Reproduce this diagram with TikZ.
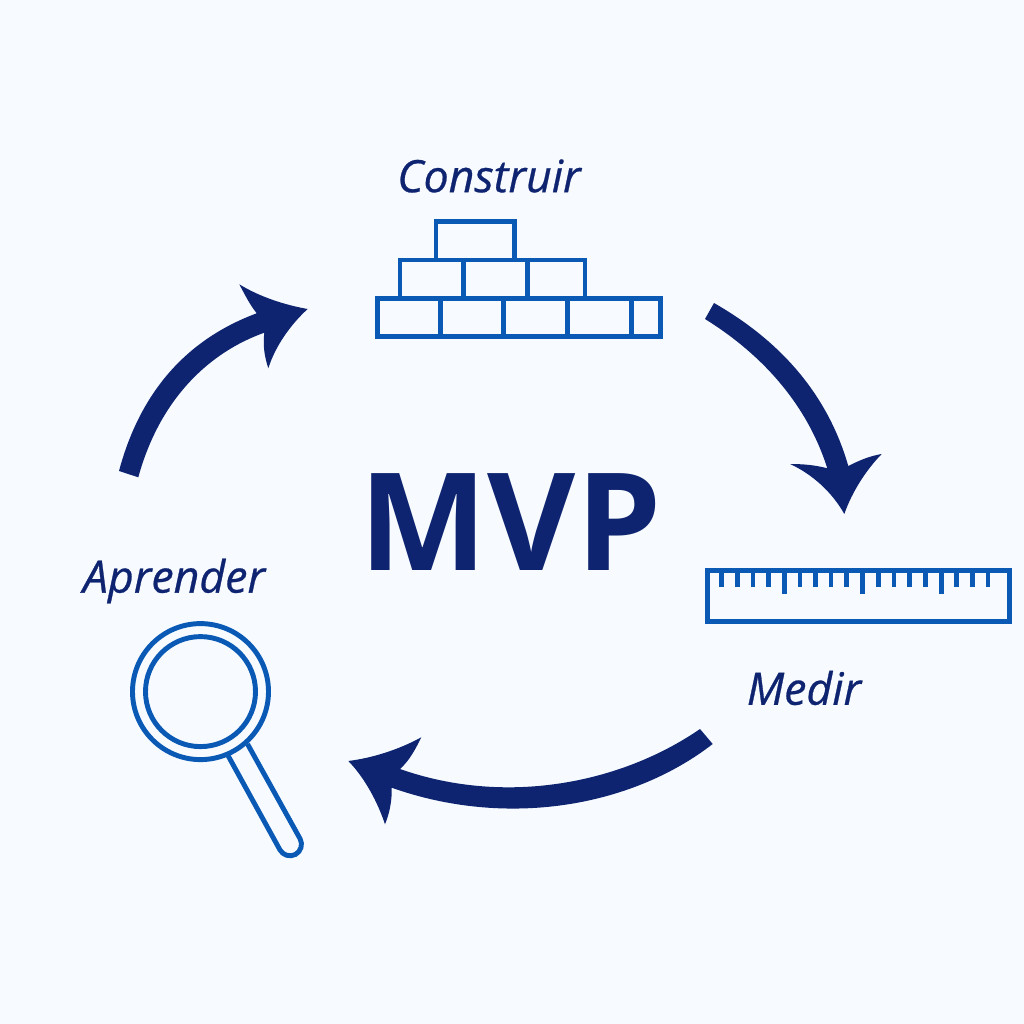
\documentclass[tikz,border=0pt]{standalone}
\usepackage{fontspec}
\setmainfont{Open Sans}
\newfontfamily\lblfont{Open Sans}[ItalicFeatures={FakeBold=0.6}]
\definecolor{bgc}{HTML}{F7FBFF}
\definecolor{navy}{HTML}{0F2470}
\definecolor{iconblue}{HTML}{0A5AB5}
\tikzset{
  lbl/.style={font=\lblfont\itshape\fontsize{12.7}{15}\selectfont, text=navy, inner sep=0pt},
  title/.style={font=\bfseries\fontsize{38.6}{46}\selectfont, text=navy, inner sep=0pt},
  brick/.style={draw=iconblue, line width=1.35pt, line join=miter},
  tick/.style={draw=iconblue, line width=1.3pt},
  lens/.style={draw=iconblue, line width=1.4pt},
  arrowshape/.style={fill=navy, draw=none}
}
\begin{document}
\begin{tikzpicture}[x=0.01cm,y=-0.01cm]
\useasboundingbox (0,0) rectangle (1024,1024);
\fill[bgc] (0,0) rectangle (1024,1024);
\node[title] (mvp) at (510.5,521.7) {MVP};
\node[lbl] (construir) at (489,176) {Construir};
\node[lbl] (aprender) at (174,581) {Aprender};
\node[lbl] (medir) at (804,688) {Medir};
% bricks
\draw[brick] (377.3,298.3) rectangle (660.5,336.5);
\foreach \x in {440.3,503.3,567.3,631.3} \draw[brick] (\x,298.3) -- (\x,336.5);
\draw[brick] (400,298.3) -- (400,260) -- (585,260) -- (585,298.3);
\foreach \x in {463.3,527.3} \draw[brick] (\x,260) -- (\x,298.3);
\draw[brick] (436,260) -- (436,221.7) -- (514.7,221.7) -- (514.7,260);
% ruler
\draw[brick] (707.3,570.5) rectangle (1009.3,621.7);
\foreach \x in {721.7,737.3,753,768.7,800,815.7,831,846.7,878.3,894,909.7,925.3,956.7,972.3,988} \draw[tick] (\x,570) -- (\x,587.3);
\foreach \x in {784.3,862.7,941.7} \draw[tick] (\x,570) -- (\x,594.3);
% magnifier
\draw[lens] (200.5,691.6) circle (68);
\draw[lens] (200.5,691.6) circle (55);
\draw[lens] (228,755.5) -- (279.9,849.8) .. controls (282.9,855.3) and (290,857.4) .. (295.5,854.4)
  .. controls (301,851.4) and (303.1,844.3) .. (300.1,838.8) -- (247.5,744);
% arrows
\fill[arrowshape] (714,303) .. controls (770,335) and (825,385) .. (848.3,466)
  .. controls (860,460) and (870,456) .. (881.7,454)
  .. controls (866,470) and (852,492) .. (844.3,514)
  .. controls (832,492) and (812,474) .. (790,464)
  .. controls (803,464) and (815,465) .. (827.3,468.3)
  .. controls (805,398) and (755,350) .. (705,319) -- cycle;
\fill[arrowshape] (119,471) .. controls (142,385) and (193,337) .. (256.7,313.3)
  .. controls (250,305) and (245,295) .. (239.3,284.3)
  .. controls (260,297) and (285,305) .. (307.7,309)
  .. controls (290,325) and (275,347) .. (268.3,368.3)
  .. controls (264,355) and (263,345) .. (264.3,332.7)
  .. controls (210,352) and (160,398) .. (138.3,477.3) -- cycle;
\fill[arrowshape] (700,729) .. controls (620,784) and (505,806) .. (400,769)
  .. controls (410,760) and (416,748) .. (421.3,737.3)
  .. controls (398,750) and (372,758) .. (348.3,761)
  .. controls (365,778) and (378,803) .. (385,824.3)
  .. controls (390,812) and (392,800) .. (391.7,787.7)
  .. controls (505,828) and (630,808) .. (712.7,744) -- cycle;
\end{tikzpicture}
\end{document}
